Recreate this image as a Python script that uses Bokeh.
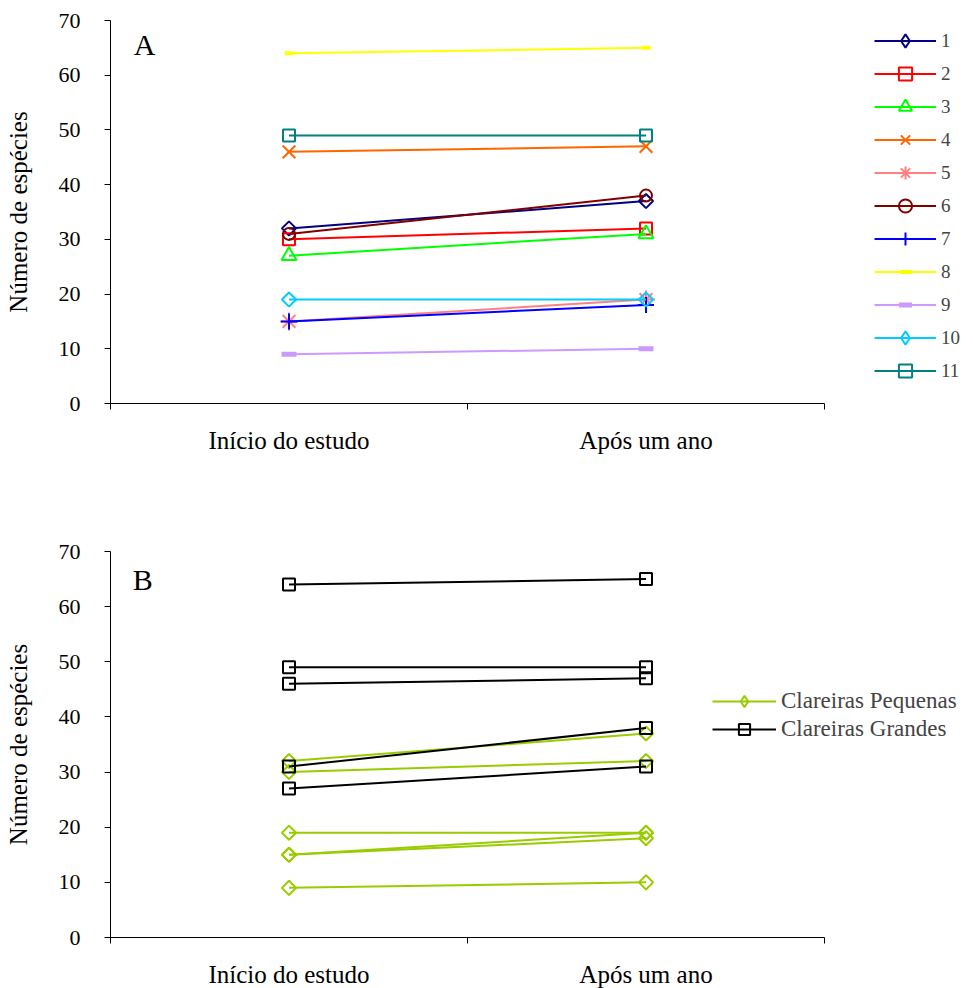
import math
from bokeh.plotting import figure
from bokeh.models import Range1d, FixedTicker, Legend, LegendItem, Label
from bokeh.layouts import column
from bokeh.embed import file_html
from bokeh.resources import INLINE

# ---- data ----
categories = ["Início do estudo", "Após um ano"]
x_pos = [0.5, 1.5]
y_ticks = [0, 10, 20, 30, 40, 50, 60, 70]

series_names = ["1", "2", "3", "4", "5", "6", "7", "8", "9", "10", "11"]
s1 = [32, 37]
s2 = [30, 32]
s3 = [27, 31]
s4 = [46, 47]
s5 = [15, 19]
s6 = [31, 38]
s7 = [15, 18]
s8 = [64, 65]
s9 = [9, 10]
s10 = [19, 19]
s11 = [49, 49]
series_values = [s1, s2, s3, s4, s5, s6, s7, s8, s9, s10, s11]

group_names = ["Clareiras Pequenas", "Clareiras Grandes"]
pequenas_ids = ["1", "2", "5", "7", "9", "10"]
grandes_ids = ["3", "4", "6", "8", "11"]

# ---- styles ----
FONT = "'Liberation Serif', 'Times New Roman', serif"
NAN = [float("nan")]  # legend-only proxy point, never drawn
colors = ["#000080", "#FF0000", "#00FF00", "#FF6600", "#FF8080", "#800000",
          "#0000FF", "#FFFF00", "#CC99FF", "#00CCFF", "#008080"]
# (plot marker, size, angle, line width, legend marker)
markers = [("square", 10, math.pi / 4, 2, "diamond"), ("square", 12, 0, 2, None),
           ("triangle", 15, 0, 2, None), ("x", 18, 0, 2, None),
           ("asterisk", 18, 0, 2, None), ("circle", 12, 0, 2, None),
           ("cross", 16, 0, 2, None), ("dash", 9, 0, 4, None), ("dash", 15, 0, 5, None),
           ("square", 10, math.pi / 4, 2, "diamond"), ("square", 12, 0, 2, None)]
group_colors = ["#99CC00", "#000000"]
group_markers = [("square", 10, math.pi / 4, "diamond"), ("square", 12, 0, None)]

AXIS_W = 714          # pixel width of the 0..2 category axis
FRAME_W = 855         # frame extends right to hold the legend
X_END = 2 * FRAME_W / AXIS_W


def make_fig(top, frame_h, bottom):
    p = figure(output_backend="svg", toolbar_location=None,
               frame_width=FRAME_W, frame_height=frame_h,
               x_range=Range1d(0, X_END), y_range=Range1d(0, 70),
               min_border_left=110, min_border_right=4,
               min_border_top=top, min_border_bottom=bottom)
    p.outline_line_color = None
    p.grid.visible = False
    p.background_fill_color = "white"
    xa = p.xaxis[0]
    xa.bounds = (0, 2)
    xa.ticker = FixedTicker(ticks=x_pos, minor_ticks=[0, 1, 2])
    xa.major_label_overrides = {x_pos[i]: categories[i] for i in range(2)}
    xa.major_tick_line_color = None
    xa.minor_tick_out = 6
    xa.minor_tick_in = 0
    xa.minor_tick_line_color = "black"
    xa.axis_line_color = "black"
    xa.major_label_standoff = 17
    xa.major_label_text_font = FONT
    xa.major_label_text_font_size = "25px"
    xa.major_label_text_color = "black"
    ya = p.yaxis[0]
    ya.ticker = FixedTicker(ticks=y_ticks)
    ya.minor_tick_line_color = None
    ya.major_tick_out = 6
    ya.major_tick_in = 0
    ya.major_tick_line_color = "black"
    ya.axis_line_color = "black"
    ya.major_label_standoff = 24
    ya.major_label_text_font = FONT
    ya.major_label_text_font_size = "22px"
    ya.major_label_text_color = "black"
    ya.axis_label = "Número de espécies"
    ya.axis_label_text_font = FONT
    ya.axis_label_text_font_style = "normal"
    ya.axis_label_text_font_size = "25px"
    ya.axis_label_text_color = "black"
    ya.axis_label_standoff = 24
    return p


# ---- panel A ----
pa = make_fig(20, 383, 60)
items_a = []
for name, vals, col, (mk, sz, ang, lw, lmk) in zip(series_names, series_values, colors, markers):
    r1 = pa.line(x_pos, vals, line_color=col, line_width=2)
    r2 = pa.scatter(x_pos, vals, marker=mk, size=sz, angle=ang, line_color=col,
                    line_width=lw, fill_color=None)
    if lmk is not None:
        r2 = pa.scatter(x=NAN, y=NAN, marker=lmk, size=sz, line_color=col,
                        line_width=lw, fill_color=None)
    items_a.append(LegendItem(label=name, renderers=[r1, r2]))
leg_a = Legend(items=items_a, location=(764, 16), border_line_color=None,
               background_fill_alpha=0, padding=0, margin=0, spacing=0,
               glyph_width=62, glyph_height=33, label_height=20, label_standoff=5,
               label_text_font=FONT, label_text_font_size="19px")
pa.add_layout(leg_a, "center")
pa.add_layout(Label(x=0.065, y=65.6, text="A", text_font=FONT, text_font_size="30px",
                    text_baseline="alphabetic", text_color="black"))

# ---- panel B ----
pb = make_fig(88, 386, 48)
items_b = []
for gname, ids, col, (mk, sz, ang, lmk) in zip(group_names, [pequenas_ids, grandes_ids],
                                               group_colors, group_markers):
    rs = []
    for sid in ids:
        vals = series_values[series_names.index(sid)]
        r1 = pb.line(x_pos, vals, line_color=col, line_width=2)
        r2 = pb.scatter(x_pos, vals, marker=mk, size=sz, angle=ang, line_color=col,
                        line_width=2, fill_color=None)
        rs += [r1, r2]
    if lmk is not None:
        rs[1] = pb.scatter(x=NAN, y=NAN, marker=lmk, size=sz, line_color=col,
                           line_width=2, fill_color=None)
    items_b.append(LegendItem(label=gname, renderers=rs[:2]))
leg_b = Legend(items=items_b, location=(602, 194), border_line_color=None,
               background_fill_alpha=0, padding=0, margin=0, spacing=0,
               glyph_width=64, glyph_height=28, label_height=20, label_standoff=5,
               label_text_font=FONT, label_text_font_size="23px")
pb.add_layout(leg_b, "center")
pb.add_layout(Label(x=0.062, y=64.9, text="B", text_font=FONT, text_font_size="30px",
                    text_baseline="alphabetic", text_color="black"))

layout = column(pa, pb, spacing=0)
open("out.html", "w").write(file_html(layout, INLINE))
